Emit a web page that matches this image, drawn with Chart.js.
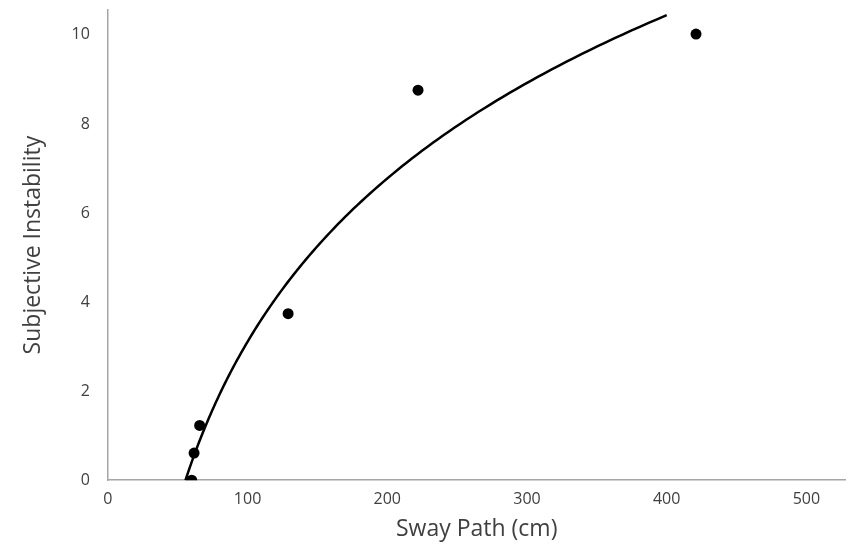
<!DOCTYPE html>
<html>
<head>
<meta charset="utf-8">
<script src="https://cdn.jsdelivr.net/npm/chart.js@4"></script>
<style>
  html, body { margin: 0; padding: 0; background: #fff; }
  #wrap { width: 851px; height: 548px; }
</style>
</head>
<body>
<div id="wrap"><canvas id="sway-graph" width="851" height="548"></canvas></div>
<script>
const ctx = document.getElementById('sway-graph');

// measured sway path (cm) vs. subjective instability score
const swayPath = [60, 61.7, 65.7, 129, 222, 421];
const instability = [0, 0.61, 1.23, 3.74, 8.76, 10.02];
const xTicks = [0, 100, 200, 300, 400, 500];
const yTicks = [0, 2, 4, 6, 8, 10];
const trendFrom = 55.5;
const trendTo = 400;

// logarithmic least-squares fit: y = a*ln(x) + b
const lx = swayPath.map(v => Math.log(v));
const mx = lx.reduce((s, v) => s + v, 0) / lx.length;
const my = instability.reduce((s, v) => s + v, 0) / instability.length;
let sxy = 0, sxx = 0;
lx.forEach((v, i) => { sxy += (v - mx) * (instability[i] - my); sxx += (v - mx) * (v - mx); });
const a = sxy / sxx;
const b = my - a * mx;

const trend = [];
for (let i = 0; i <= 120; i++) {
  const x = trendFrom * Math.pow(trendTo / trendFrom, i / 120);
  trend.push({ x: x, y: a * Math.log(x) + b });
}

const tickFont = { family: "'Open Sans', sans-serif", size: 16 };
const titleFont = { family: "'Open Sans', sans-serif", size: 23 };

new Chart(ctx, {
  type: 'scatter',
  data: {
    datasets: [{
      data: swayPath.map((x, i) => ({ x: x, y: instability[i] })),
      pointRadius: 5.5,
      pointBackgroundColor: '#000',
      pointBorderWidth: 0,
      order: 1
    }, {
      data: trend,
      showLine: true,
      borderColor: '#000',
      borderWidth: 2.5,
      pointRadius: 0,
      tension: 0,
      order: 2
    }]
  },
  options: {
    responsive: false,
    animation: false,
    layout: { padding: { top: 10, right: 3, left: 20, bottom: 5 } },
    plugins: { legend: { display: false }, tooltip: { enabled: false } },
    scales: {
      x: {
        type: 'linear',
        min: 0,
        max: 528,
        afterBuildTicks: s => { s.ticks = xTicks.map(v => ({ value: v })); },
        afterFit: s => { s.paddingRight = 0; },
        grid: { display: false },
        border: { display: true, color: '#a6a6a6', width: 1.5 },
        ticks: { color: '#404040', font: tickFont, padding: 2, maxRotation: 0 },
        title: { display: true, text: 'Sway Path (cm)', color: '#404040', font: titleFont, padding: { top: 4, bottom: 0 } }
      },
      y: {
        type: 'linear',
        min: 0,
        max: 10.56,
        afterBuildTicks: s => { s.ticks = yTicks.map(v => ({ value: v })); },
        afterFit: s => { s.paddingTop = 0; },
        grid: { display: false },
        border: { display: true, color: '#a6a6a6', width: 1.5 },
        ticks: { color: '#404040', font: tickFont, padding: 10 },
        title: { display: true, text: 'Subjective Instability', color: '#404040', font: titleFont, padding: { top: 0, bottom: 14 } }
      }
    }
  }
});
</script>
</body>
</html>
